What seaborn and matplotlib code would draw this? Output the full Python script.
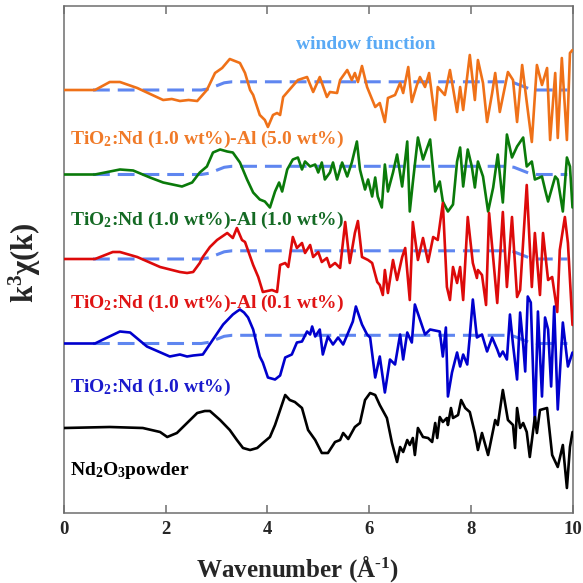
import numpy as np
import matplotlib
matplotlib.use("Agg")
import matplotlib.pyplot as plt
import seaborn as sns

sns.set_theme(style="white")
plt.rcParams['font.family'] = ['Liberation Serif', 'DejaVu Serif']
plt.rcParams['font.weight'] = 'bold'
plt.rcParams['mathtext.fontset'] = 'custom'
plt.rcParams['mathtext.rm'] = 'Liberation Serif:bold'
plt.rcParams['mathtext.it'] = 'Liberation Serif:bold:italic'
plt.rcParams['mathtext.bf'] = 'Liberation Serif:bold'

# ---------------- data (k in 1/Angstrom, amplitude in arbitrary units) ----------------
orange_k = [0, 0.61, 0.90, 1.00, 1.10, 1.44, 1.95, 2.12, 2.28, 2.45, 2.62, 2.81, 2.97, 3.11, 3.26, 3.36,
            3.46, 3.56, 3.66, 3.72, 3.85, 3.95, 4.01, 4.11, 4.19, 4.25, 4.31, 4.48, 4.60, 4.78, 4.90,
            5.03, 5.17, 5.23, 5.37, 5.43, 5.57, 5.66, 5.72, 5.78, 5.86, 5.96, 6.12, 6.21, 6.31, 6.37,
            6.51, 6.61, 6.67, 6.77, 6.84, 6.94, 7.00, 7.10, 7.18, 7.30, 7.35, 7.49, 7.59, 7.73, 7.79,
            7.85, 7.98, 8.08, 8.14, 8.24, 8.32, 8.42, 8.48, 8.57, 8.73, 8.83, 8.91, 9.01, 9.10, 9.20,
            9.30, 9.40, 9.50, 9.56, 9.66, 9.71, 9.79, 9.89, 9.95, 10.0]
orange_y = [0, 0, 0.8, 0.8, 0.8, 0.2, -1.0, -0.9, -1.1, -1.0, -1.1, 0, 1.7, 2.2, 3.1, 2.9,
            2.7, 1.7, 0, -0.5, -2.5, -3.0, -3.7, -2.5, -2.3, -2.5, -0.7, 0.3, 1.0, 1.3, -0.2,
            1.3, -0.7, -0.2, -0.3, 1.0, 2.0, 1.0, 1.7, 0.8, 2.4, 0.3, -1.7, -1.3, -3.2, -0.8,
            -0.5, 0.7, -0.3, 2.3, -1.2, 0.5, 1.3, 0.3, 1.7, -3.0, 0.3, -0.5, 2.0, -2.2, 0.3,
            -2.0, 3.5, -1.0, 3.0, 0.7, -3.2, -0.3, 1.7, -2.2, 1.8, 1.0, -3.2, 2.5, -1.2, -5.2,
            2.5, 0.5, 2.2, -5.0, 1.7, -4.8, 3.2, -5.0, 3.7, 4.0]

green_k = [0, 0.61, 1.10, 1.36, 1.69, 1.95, 2.32, 2.52, 2.67, 2.81, 2.93, 3.07, 3.21, 3.32, 3.46,
           3.60, 3.72, 3.85, 3.95, 4.05, 4.15, 4.23, 4.29, 4.39, 4.50, 4.60, 4.68, 4.74, 4.84,
           4.94, 5.00, 5.07, 5.13, 5.23, 5.29, 5.37, 5.47, 5.57, 5.66, 5.76, 5.82, 5.92, 5.98,
           6.06, 6.12, 6.17, 6.25, 6.31, 6.37, 6.47, 6.55, 6.65, 6.75, 6.80, 6.86, 6.96, 7.06,
           7.20, 7.30, 7.39, 7.45, 7.55, 7.65, 7.73, 7.79, 7.85, 7.94, 8.02, 8.08, 8.14, 8.24,
           8.34, 8.44, 8.53, 8.63, 8.71, 8.81, 8.91, 9.03, 9.10, 9.20, 9.26, 9.40, 9.46, 9.52,
           9.66, 9.71, 9.81, 9.89, 9.95, 10.0]
green_y = [0, 0, 0.5, 0.4, -0.3, -0.8, -1.2, -0.8, 0.2, 0.8, 2.2, 2.5, 2.3, 2.2, 1.2,
           -0.5, -1.8, -2.5, -2.7, -3.3, -1.7, -0.8, -1.7, 0.5, 1.5, 1.7, 0.5, 1.3, 0.8,
           1.0, 0.2, 1.2, -0.5, 0.2, 1.2, -0.5, 1.2, -0.2, 1.2, 3.3, 0.5, -1.5, -0.5,
           -2.2, -0.3, -2.2, -3.3, 1.0, -1.7, 0.2, 2.0, -1.2, 3.3, -3.7, -0.8, 3.7, 1.5,
           3.5, -1.7, -0.7, -2.7, -3.7, -3.0, 1.3, 2.7, -1.2, 2.5, 0.8, -1.3, 1.3, -0.2,
           -3.7, -1.3, 2.0, -2.8, 4.0, 1.7, 2.8, 3.7, 0.8, 1.3, -0.5, -0.2, -1.5, -2.7,
           -0.2, -0.5, -3.7, 1.7, 0.8, -3.3]

red_k = [0, 0.61, 0.96, 1.10, 1.44, 1.89, 2.28, 2.42, 2.54, 2.67, 2.73, 2.87, 3.01, 3.21, 3.32,
         3.40, 3.50, 3.56, 3.72, 3.82, 3.91, 4.09, 4.19, 4.25, 4.35, 4.41, 4.50, 4.58, 4.68,
         4.74, 4.84, 4.90, 5.00, 5.07, 5.17, 5.23, 5.33, 5.43, 5.53, 5.62, 5.72, 5.78, 5.86,
         5.98, 6.06, 6.16, 6.21, 6.27, 6.31, 6.37, 6.47, 6.55, 6.65, 6.71, 6.80, 6.86, 6.96,
         7.06, 7.16, 7.26, 7.35, 7.45, 7.53, 7.59, 7.65, 7.73, 7.79, 7.85, 7.94, 8.04, 8.12,
         8.14, 8.22, 8.30, 8.36, 8.52, 8.63, 8.71, 8.81, 8.91, 8.97, 9.10, 9.20, 9.26, 9.36,
         9.42, 9.52, 9.60, 9.70, 9.75, 9.85, 9.91, 10.0]
red_y = [0, 0, 0.7, 0.7, 0.2, -0.8, -1.3, -1.4, -1.3, -0.4, 0.2, 1.2, 1.9, 2.6, 2.1,
         3.1, 1.9, 1.7, -0.6, -1.8, -3.3, -3.1, -3.3, -0.6, -0.4, -0.8, 2.2, 1.1, 1.6,
         0.6, 1.4, 0.2, 0.7, -0.3, 0.1, -0.8, -0.4, -0.9, 3.7, -0.4, 2.6, 3.8, 0.2,
         -0.1, -0.4, -2.3, -2.6, -3.6, -1.1, -3.4, -0.1, -2.1, 0.2, 1.1, -4.1, 3.7, -0.1,
         2.1, -0.3, 2.2, 1.9, 5.6, -2.8, -4.1, -0.8, -2.4, -0.8, -4.1, 4.2, -0.4, -1.9,
         -1.1, -1.6, -4.6, 4.6, -4.4, 4.7, -2.8, 4.2, -3.8, -3.1, 7.4, -2.8, 2.6, -3.6,
         2.6, -2.1, -1.8, -5.3, 0.9, 4.2, 1.6, -6.6]

blue_k = [0, 0.61, 0.77, 1.10, 1.30, 1.63, 2.08, 2.28, 2.42, 2.54, 2.73, 2.93, 3.13, 3.32, 3.40,
          3.46, 3.54, 3.62, 3.72, 3.85, 3.91, 4.01, 4.15, 4.25, 4.35, 4.48, 4.58, 4.68, 4.78,
          4.84, 4.88, 4.94, 5.03, 5.09, 5.19, 5.29, 5.39, 5.49, 5.59, 5.68, 5.74, 5.86, 5.96,
          6.02, 6.12, 6.21, 6.31, 6.41, 6.51, 6.61, 6.67, 6.75, 6.84, 6.90, 7.00, 7.10, 7.20,
          7.39, 7.45, 7.51, 7.55, 7.63, 7.73, 7.79, 7.85, 7.93, 7.98, 8.04, 8.12, 8.22, 8.32,
          8.42, 8.52, 8.57, 8.63, 8.71, 8.77, 8.83, 8.91, 8.97, 9.03, 9.07, 9.12, 9.18, 9.26,
          9.32, 9.40, 9.46, 9.52, 9.58, 9.64, 9.71, 9.81, 9.91, 10.0]
blue_y = [0, 0, 0.4, 1.2, 1.1, -0.3, -1.3, -1.1, -1.3, -1.2, -1.1, 0.4, 1.9, 2.9, 3.2,
          3.4, 3.1, 2.6, 1.4, -1.3, -1.9, -3.4, -3.6, -3.2, -1.4, -1.1, 0.1, 0.2, 1.2,
          0.9, 1.7, 0.7, 1.4, -1.1, 0.7, -0.1, 0.6, -0.1, 1.1, 2.2, 3.7, 1.9, 0.9,
          0.6, -3.4, -1.3, -4.9, -1.6, -2.1, 0.9, -1.6, 1.1, 0.1, 3.9, 2.4, 0.9, 1.4,
          1.2, -1.3, 1.6, -5.3, -2.9, -0.9, -2.3, -1.1, -2.1, 0.7, 4.4, 0.6, 0.9, -0.8,
          0.6, -0.6, -1.3, -0.8, -1.6, 2.9, -0.1, -3.6, 3.1, -0.1, -2.8, 4.7, 4.1, -8.1,
          3.2, -5.3, 2.6, 1.4, -4.3, 3.7, -6.6, 2.1, -2.3, -0.9]

black_k = [0, 0.90, 1.55, 1.89, 2.03, 2.22, 2.42, 2.62, 2.77, 2.87, 3.07, 3.26, 3.40, 3.52, 3.66,
           3.80, 3.91, 4.05, 4.15, 4.25, 4.35, 4.44, 4.54, 4.68, 4.80, 4.94, 5.07, 5.19, 5.33,
           5.43, 5.49, 5.59, 5.72, 5.82, 5.92, 6.02, 6.12, 6.21, 6.35, 6.45, 6.55, 6.61, 6.67,
           6.75, 6.80, 6.86, 6.90, 6.96, 7.06, 7.16, 7.24, 7.30, 7.34, 7.39, 7.45, 7.53, 7.55,
           7.61, 7.65, 7.75, 7.81, 7.89, 7.98, 8.08, 8.14, 8.22, 8.34, 8.48, 8.53, 8.63, 8.73,
           8.83, 8.87, 8.91, 8.97, 9.03, 9.10, 9.16, 9.26, 9.30, 9.36, 9.50, 9.60, 9.71, 9.81,
           9.89, 9.95, 10.0]
black_y = [0, 0.1, 0, -0.4, -0.9, -0.5, 0.5, 1.5, 1.7, 1.7, 0.8, -0.2, -1.2, -2.0, -2.2,
           -2.0, -1.5, -0.9, 0.3, 1.8, 3.3, 2.8, 2.6, 2.0, -0.2, -1.2, -2.5, -2.5, -1.4,
           -1.2, -0.5, -1.1, 0.1, 0.5, 2.8, 3.5, 3.3, 2.3, 1.0, -1.5, -3.4, -1.9, -2.4,
           -1.2, -1.7, -1.0, -2.7, 0, -0.9, -1.0, -1.4, 0.5, -1.0, 1.1, 0.6, 1.0, 0.3,
           2.0, 1.0, 1.3, 2.8, 2.0, 1.6, -0.5, -2.2, -0.5, -2.7, 0.8, 0.3, 3.8, 0.8,
           0.3, -2.0, 2.0, 0, 0.5, -0.4, -2.9, 1.1, -0.5, 1.8, 2.0, -2.7, -3.9, -1.7,
           -6.0, -1.9, -0.4]

window_k = [0.57, 2.70, 2.85, 3.00, 3.15, 3.30, 8.70, 8.85, 9.00, 9.15, 9.30, 9.90]
window_y = [0, 0, 0.12, 0.42, 0.72, 0.82, 0.82, 0.72, 0.42, 0.12, 0, 0]

offsets = [42.3, 33.85, 25.4, 16.95, 8.5]
series_names = ["TiO$_2$:Nd (1.0 wt%)-Al (5.0 wt%)",
                "TiO$_2$:Nd (1.0 wt%)-Al (1.0 wt%)",
                "TiO$_2$:Nd (1.0 wt%)-Al (0.1 wt%)",
                "TiO$_2$:Nd (1.0 wt%)",
                "Nd$_2$O$_3$powder"]
line_colors = ['#ef7118', '#0a7a0a', '#dd0a0a', '#0000cd', '#000000']
text_colors = ['#f07a28', '#146a24', '#e01414', '#1a1acc', '#000000']
label_y = [36.9, 28.8, 20.5, 12.1, 3.8]
has_window = [True, True, True, True, False]
xticks = [0, 2, 4, 6, 8, 10]

series_k = [orange_k, green_k, red_k, blue_k, black_k]
series_y = [orange_y, green_y, red_y, blue_y, black_y]

# ---------------- figure ----------------
W = 583
fig = plt.figure(figsize=(W / 100, W / 100), dpi=100)
ax = fig.add_axes([64 / W, 1 - 513 / W, (572.5 - 64) / W, (513 - 6) / W])

for kk, yy, off, col, win in zip(series_k, series_y, offsets, line_colors, has_window):
    if win:
        sns.lineplot(x=window_k, y=np.array(window_y) + off, ax=ax, color='#5f86f0',
                     lw=2.2, sort=False, estimator=None, zorder=2
                     ).lines[-1].set_dashes((5.5, 2.6))
    sns.lineplot(x=kk, y=np.array(yy) + off, ax=ax, color=col, lw=1.9,
                 sort=False, estimator=None, zorder=3)

for name, tc, ly in zip(series_names, text_colors, label_y):
    ax.text(0.12, ly, name, color=tc, fontsize=14, fontweight='bold',
            ha='left', va='baseline')
ax.text(5.93, 46.4, "window function", color='#5aaaf5', fontsize=14,
        fontweight='bold', ha='center', va='baseline')

ax.set_xlim(0, 10)
ax.set_ylim(0, 50.7)
ax.set_xticks(xticks)
ax.set_xticklabels([str(t) for t in xticks], fontsize=13.5, fontweight='bold')
ax.set_yticks([])
ax.tick_params(axis='x', which='both', direction='in', length=6, width=1.1,
               top=True, bottom=True, color='#6e6e6e', pad=6)
for sp in ax.spines.values():
    sp.set_color('#6e6e6e')
    sp.set_linewidth(1.1)
    sp.set_visible(True)
ax.set_xlabel("")
ax.set_ylabel("")

fig.text(298 / W, 1 - 577 / W, "Wavenumber (Å$^{\\text{-}1}$)", fontsize=18,
         fontweight='bold', ha='center', va='baseline')
fig.text(25 / W, 1 - 263 / W, "k$^3$χ(k)", fontsize=22, fontweight='bold',
         ha='center', va='center', rotation=90)

fig.savefig("out.png", dpi=100)
